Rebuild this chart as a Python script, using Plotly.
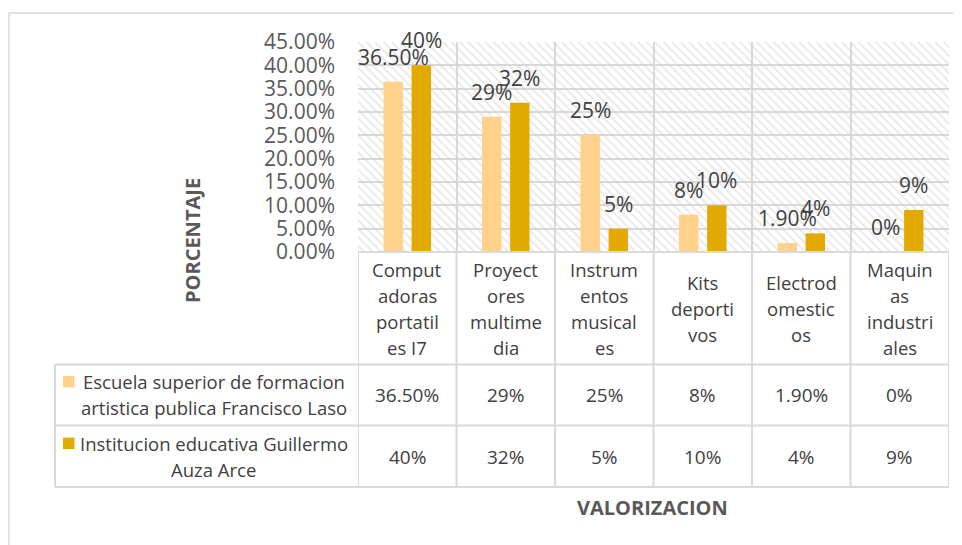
import plotly.graph_objects as go

categories = ["Comput<br>adoras<br>portatil<br>es I7", "Proyect<br>ores<br>multime<br>dia",
              "Instrum<br>entos<br>musical<br>es", "Kits<br>deporti<br>vos",
              "Electrod<br>omestic<br>os", "Maquin<br>as<br>industri<br>ales"]
cat_ids = ["c1", "c2", "c3", "c4", "c5", "c6"]
series_names = ["Escuela superior de formacion<br>artistica publica Francisco Laso",
                "Institucion educativa Guillermo<br>Auza Arce"]
escuela = [36.5, 29, 25, 8, 1.9, 0]
institucion = [40, 32, 5, 10, 4, 9]
escuela_lbl = ["36.50%", "29%", "25%", "8%", "1.90%", "0%"]
institucion_lbl = ["40%", "32%", "5%", "10%", "4%", "9%"]
y_ticks = [0, 5, 10, 15, 20, 25, 30, 35, 40, 45]

C_LIGHT = "#FFD18A"
C_DARK = "#E2AA00"
GRID = "#D9D9D9"
TXT = "#404040"
AX = "#595959"
FONT = "Open Sans"

OFF = 8  # page body margin
W_FIG, H_FIG = 962 - OFF, 545 - OFF
L, R, T, B = 358, 949, 42, 252  # screen pixels
PW, PH = R - L, B - T
LINE_H = 26


def px(p):
    return (p - L) / PW


def py(p):
    return (B - p) / PH


def line_ys(n, center):
    return [center + (i - (n - 1) / 2) * LINE_H for i in range(n)]


fig = go.Figure()

# hatched plot background
fig.add_trace(go.Bar(x=[0.5], y=[45], width=[1], xaxis="x", yaxis="y",
                     marker=dict(color="rgba(0,0,0,0)", line=dict(width=0),
                                 pattern=dict(shape="\\", fgcolor="#CFCFCF", size=6, solidity=0.3)),
                     hoverinfo="skip", showlegend=False))

fig.add_trace(go.Bar(x=cat_ids, y=escuela, name="Escuela", marker=dict(color=C_LIGHT, line=dict(width=0)),
                     xaxis="x2", yaxis="y", showlegend=False))
fig.add_trace(go.Bar(x=cat_ids, y=institucion, name="Institucion", marker=dict(color=C_DARK, line=dict(width=0)),
                     xaxis="x2", yaxis="y", showlegend=False))

ann = []
# data labels
for c, v, t in zip(cat_ids, escuela, escuela_lbl):
    ann.append(dict(x=c, y=v, xref="x2", yref="y", text=t, showarrow=False, xshift=-14, yshift=25,
                    yanchor="middle", font=dict(family=FONT, size=21, color=TXT)))
for c, v, t in zip(cat_ids, institucion, institucion_lbl):
    ann.append(dict(x=c, y=v, xref="x2", yref="y", text=t, showarrow=False, xshift=14, yshift=25,
                    yanchor="middle", font=dict(family=FONT, size=21, color=TXT)))
# table header (one annotation per wrapped line)
for c, name in zip(cat_ids, categories):
    parts = name.split("<br>")
    for part, yy in zip(parts, line_ys(len(parts), 308)):
        ann.append(dict(x=c, y=py(yy), xref="x2", yref="paper", text=part, showarrow=False,
                        yanchor="middle", font=dict(family=FONT, size=18.5, color=TXT)))
# table rows
for c, t in zip(cat_ids, escuela_lbl):
    ann.append(dict(x=c, y=py(395), xref="x2", yref="paper", text=t, showarrow=False,
                    yanchor="middle", font=dict(family=FONT, size=19, color=TXT)))
for c, t in zip(cat_ids, institucion_lbl):
    ann.append(dict(x=c, y=py(456.5), xref="x2", yref="paper", text=t, showarrow=False,
                    yanchor="middle", font=dict(family=FONT, size=19, color=TXT)))
for name, yc in zip(series_names, [394.7, 456.3]):
    parts = name.split("<br>")
    for part, yy in zip(parts, line_ys(len(parts), yc)):
        ann.append(dict(x=px(213.5), y=py(yy), xref="paper", yref="paper", text=part, showarrow=False,
                        xanchor="center", yanchor="middle",
                        font=dict(family=FONT, size=18.5, color=TXT)))
# axis titles
ann.append(dict(x=px(192), y=py(241), xref="paper", yref="paper", text="<b>PORCENTAJE</b>", textangle=-90,
                showarrow=False, xanchor="center", yanchor="middle", font=dict(family=FONT, size=20, color=AX)))
ann.append(dict(x=px(652), y=py(507), xref="paper", yref="paper", text="<b>VALORIZACION</b>",
                showarrow=False, xanchor="center", yanchor="middle", font=dict(family=FONT, size=20, color=AX)))

shapes = []
line = dict(color=GRID, width=2)
# outer chart border
shapes.append(dict(type="rect", xref="paper", yref="paper", x0=px(9), x1=px(990), y0=py(13), y1=py(600),
                   line=dict(color="#D9D9D9", width=1.5), layer="below"))
# table lines
for i in range(7):
    shapes.append(dict(type="line", xref="x2", yref="paper", x0=i - 0.5, x1=i - 0.5, y0=py(B), y1=py(487), line=line))
for yy in [364.5, 425.5, 487]:
    shapes.append(dict(type="line", xref="paper", yref="paper", x0=px(55), x1=1, y0=py(yy), y1=py(yy), line=line))
shapes.append(dict(type="line", xref="paper", yref="paper", x0=px(55), x1=px(55), y0=py(364.5), y1=py(487), line=line))
shapes.append(dict(type="line", xref="paper", yref="paper", x0=0, x1=1, y0=0, y1=0, line=line))
# legend keys
for col, yc in zip([C_LIGHT, C_DARK], [381.7, 443.3]):
    shapes.append(dict(type="rect", xref="paper", yref="paper", x0=px(63), x1=px(74.5), y0=py(yc - 5.7), y1=py(yc + 5.7),
                       fillcolor=col, line=dict(width=0)))

fig.update_layout(
    width=W_FIG, height=H_FIG,
    margin=dict(l=L - OFF, r=W_FIG - (R - OFF), t=T - OFF, b=H_FIG - (B - OFF), autoexpand=False),
    paper_bgcolor="white", plot_bgcolor="white",
    barmode="group", bargap=0.43, bargroupgap=0.31,
    showlegend=False,
    xaxis=dict(range=[0, 1], visible=False, fixedrange=True),
    xaxis2=dict(overlaying="x", type="category", range=[-0.5, 5.5], tickson="boundaries",
                showgrid=True, gridcolor=GRID, gridwidth=1.5, showticklabels=False, ticks="",
                showline=False, zeroline=False),
    yaxis=dict(range=[0, 45], tickvals=y_ticks, ticktext=[f"{v:.2f}%" for v in y_ticks],
               showgrid=True, gridcolor=GRID, gridwidth=1.5, zeroline=False, ticks="",
               ticklabelstandoff=22, tickfont=dict(family=FONT, size=21, color=AX)),
    annotations=ann, shapes=shapes,
)

fig.write_html("out.html")
